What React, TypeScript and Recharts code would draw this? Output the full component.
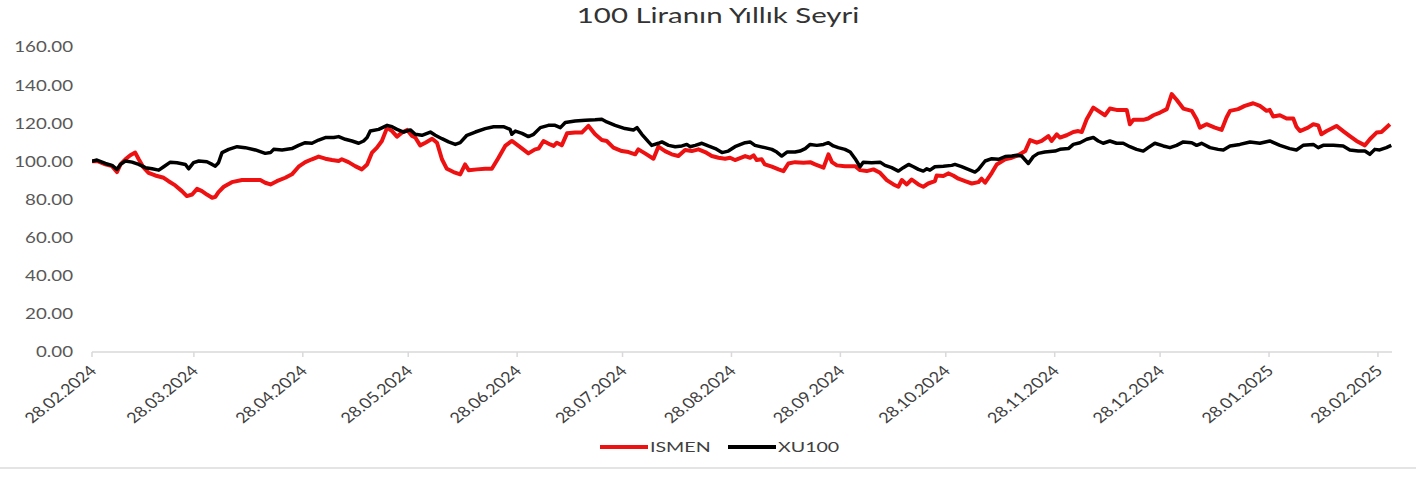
import React from "react";
import { LineChart, Line, XAxis, YAxis, Legend } from "recharts";

const chartTitle = "100 Liranın Yıllık Seyri";
const seriesNames = ["ISMEN", "XU100"];
const seriesColors = ["#ee1111", "#000000"];

// x = days since 28.02.2024
const tickDays = [0, 29, 60, 90, 121, 151, 182, 213, 243, 274, 304, 335, 366];
const tickLabels = [
  "28.02.2024", "28.03.2024", "28.04.2024", "28.05.2024", "28.06.2024", "28.07.2024",
  "28.08.2024", "28.09.2024", "28.10.2024", "28.11.2024", "28.12.2024", "28.01.2025", "28.02.2025",
];
const yTicks = [0, 20, 40, 60, 80, 100, 120, 140, 160];

const ismenDays = [
  0, 1.4, 3.8, 5.7, 7.1, 8.1, 9.5, 10.9, 12.3, 13.3, 14.7, 16.1, 18.0, 20.4, 21.8, 23.7, 25.6, 27.0, 28.5, 29.9,
  31.3, 32.7, 34.2, 35.1, 36.0, 37.5, 39.8, 42.7, 45.5, 47.9, 49.3, 50.8, 52.6, 55.0, 56.9, 58.8, 60.7, 62.6, 64.5, 66.4,
  68.3, 70.2, 71.1, 73.0, 74.9, 76.8, 78.3, 79.7, 81.1, 82.5, 84.0, 85.4, 86.8, 88.2, 89.7, 91.1, 92.0, 93.4, 94.9, 96.8,
  98.2, 99.6, 101.0, 102.9, 104.8, 106.2, 107.2, 109.6, 111.9, 113.8, 115.7, 117.6, 119.5, 121.4, 124.2, 126.1, 127.1, 128.5, 130.4, 131.4,
  132.3, 133.7, 135.2, 137.5, 139.4, 141.3, 143.2, 145.1, 146.5, 148.4, 150.8, 152.7, 154.6, 155.5, 157.4, 159.8, 161.2, 163.1, 165.0, 166.9,
  168.8, 170.7, 172.6, 174.5, 176.4, 178.3, 180.2, 181.6, 183.0, 185.9, 187.3, 188.3, 189.2, 190.6, 191.5, 193.5, 195.4, 196.8, 198.2, 200.1,
  202.5, 204.4, 205.8, 208.2, 209.6, 210.6, 212.0, 214.3, 217.2, 218.6, 220.5, 222.4, 224.3, 226.2, 228.1, 229.5, 230.5, 231.9, 233.3, 235.2,
  236.6, 238.0, 239.9, 240.4, 242.3, 243.7, 245.1, 246.6, 248.5, 250.4, 252.3, 253.2, 254.2, 256.1, 257.5, 259.9, 261.8, 263.6, 265.6, 267.0,
  268.9, 270.3, 272.2, 273.1, 274.6, 275.5, 277.4, 279.3, 280.7, 281.7, 283.1, 285.0, 286.4, 288.3, 289.7, 291.6, 294.5, 295.4, 296.4, 299.2,
  300.6, 302.1, 304.0, 305.9, 307.3, 308.7, 310.6, 313.0, 314.4, 315.3, 317.2, 319.6, 321.5, 322.9, 323.9, 326.2, 328.1, 330.5, 332.4, 334.3,
  335.2, 336.2, 338.1, 340.0, 341.9, 342.8, 343.8, 346.1, 347.6, 349.0, 349.9, 351.4, 352.8, 354.2, 356.1, 358.0, 359.9, 362.3, 363.7, 365.6,
  367.0, 369.4,
];
const ismenValues = [
  100, 100.2, 98.4, 97.5, 94.4, 98.4, 101.1, 103.2, 104.6, 101.1, 96.7, 94.0, 92.6, 91.4, 89.6, 87.4, 84.4, 81.8, 82.6, 85.6,
  84.4, 82.6, 80.9, 81.4, 83.9, 86.7, 89.1, 90.2, 90.2, 90.2, 88.8, 87.9, 89.6, 91.4, 93.2, 97.2, 99.6, 101.1, 102.5, 101.4,
  100.7, 100.2, 101.1, 99.6, 97.5, 95.8, 98.4, 104.6, 107.2, 110.7, 117.7, 115.9, 113.0, 115.1, 116.5, 113.3, 112.5, 108.4, 109.8, 111.9,
  109.8, 101.1, 96.1, 94.4, 93.2, 98.4, 95.4, 95.8, 96.1, 96.1, 101.9, 108.1, 110.7, 108.1, 104.2, 106.3, 106.7, 110.7, 108.9, 108.1,
  109.8, 108.4, 114.7, 115.1, 115.1, 118.6, 114.2, 111.2, 110.7, 107.2, 105.4, 104.9, 103.7, 106.3, 104.2, 101.4, 107.7, 105.4, 103.7, 102.8,
  106.0, 105.4, 106.3, 104.9, 102.8, 101.9, 101.4, 101.9, 100.7, 102.8, 101.9, 103.2, 100.7, 101.1, 98.4, 97.2, 95.8, 94.9, 98.9, 99.6,
  99.3, 99.6, 98.4, 96.7, 103.7, 99.6, 97.9, 97.5, 97.5, 95.4, 94.9, 95.8, 94.0, 90.2, 87.9, 86.7, 90.2, 87.9, 90.5, 87.9,
  86.7, 88.4, 89.6, 92.6, 92.3, 93.7, 92.6, 90.9, 89.6, 88.4, 89.1, 90.9, 88.8, 94.0, 98.4, 101.1, 101.9, 103.2, 105.4, 111.2,
  109.8, 110.7, 113.3, 110.7, 114.2, 112.5, 113.7, 115.4, 115.9, 115.4, 122.1, 128.2, 126.5, 124.2, 127.7, 127.0, 127.0, 119.5, 121.8, 121.8,
  122.5, 124.2, 125.6, 127.4, 135.3, 132.3, 127.7, 126.5, 122.1, 117.7, 119.5, 117.7, 116.5, 123.0, 126.5, 127.4, 129.1, 130.5, 129.1, 126.5,
  127.0, 123.5, 124.2, 122.5, 122.5, 118.2, 115.9, 117.7, 119.5, 118.9, 114.2, 115.9, 117.2, 118.6, 115.9, 113.3, 110.7, 108.4, 111.6, 115.1,
  115.4, 119.5,
];

const xu100Days = [
  0, 1.4, 3.8, 5.7, 7.1, 8.1, 9.5, 11.4, 13.3, 15.2, 17.1, 19.0, 20.4, 22.3, 24.2, 26.6, 27.5, 28.9, 30.4, 32.7,
  34.2, 35.1, 36.0, 37.0, 38.9, 41.3, 43.6, 46.5, 49.3, 50.8, 51.7, 54.1, 56.9, 58.8, 60.7, 62.6, 64.5, 66.4, 68.8, 70.2,
  72.1, 74.0, 75.9, 77.3, 78.3, 79.2, 81.6, 84.0, 85.4, 86.8, 88.7, 90.6, 92.0, 93.9, 96.3, 97.7, 99.6, 101.5, 103.4, 104.8,
  106.7, 109.1, 111.9, 114.3, 117.1, 119.0, 119.5, 120.5, 122.4, 124.2, 125.7, 127.6, 129.9, 131.8, 133.3, 134.7, 137.5, 140.4, 143.2, 145.1,
  146.5, 148.9, 151.7, 154.1, 155.1, 156.5, 158.4, 159.3, 161.2, 162.2, 164.1, 166.0, 167.9, 169.3, 170.2, 171.7, 173.6, 175.4, 177.4, 179.3,
  181.1, 183.0, 185.9, 187.3, 188.7, 191.5, 193.5, 194.9, 196.3, 197.8, 200.1, 201.5, 203.0, 204.4, 206.3, 208.2, 209.6, 211.0, 212.4, 214.3,
  215.8, 217.2, 218.6, 219.5, 221.9, 224.3, 225.7, 227.6, 229.5, 230.9, 232.4, 233.8, 235.2, 236.6, 237.6, 238.5, 239.9, 242.3, 244.7, 245.6,
  247.5, 249.4, 251.3, 252.3, 254.2, 256.1, 258.0, 259.9, 261.8, 263.2, 264.6, 266.5, 267.9, 269.3, 271.2, 274.1, 275.5, 277.9, 279.3, 281.2,
  283.1, 285.0, 286.4, 287.8, 289.7, 291.6, 293.5, 295.4, 297.3, 299.2, 300.6, 302.5, 304.9, 306.8, 308.7, 310.6, 313.0, 314.4, 315.8, 318.2,
  320.5, 322.0, 323.9, 326.7, 329.6, 332.4, 335.2, 338.1, 340.9, 342.8, 344.7, 347.6, 349.0, 350.4, 353.3, 356.1, 358.0, 360.4, 362.3, 363.7,
  365.1, 366.5, 368.4, 369.8,
];
const xu100Values = [
  100, 100.7, 98.9, 97.9, 95.8, 98.4, 100.2, 99.6, 98.4, 96.7, 96.1, 95.4, 97.2, 99.6, 99.3, 98.4, 96.1, 99.3, 100.2, 99.8,
  98.4, 97.5, 99.3, 104.6, 106.3, 107.7, 107.2, 106.0, 104.2, 104.6, 106.3, 106.0, 106.7, 108.4, 109.8, 109.5, 111.2, 112.5, 112.5, 113.0,
  111.6, 110.7, 109.5, 110.7, 112.5, 115.9, 116.8, 118.9, 118.2, 116.8, 115.4, 116.5, 114.2, 113.7, 115.4, 113.7, 111.9, 110.2, 108.9, 109.8,
  113.7, 115.4, 117.2, 118.2, 118.2, 116.8, 114.2, 115.9, 114.7, 113.0, 114.2, 117.7, 118.9, 118.9, 117.7, 120.4, 121.2, 121.6, 121.8, 122.1,
  120.7, 118.9, 117.2, 116.5, 117.7, 114.2, 110.2, 108.4, 109.5, 110.2, 108.4, 107.7, 108.1, 108.9, 107.7, 108.4, 109.5, 108.1, 106.7, 104.6,
  105.4, 107.7, 109.8, 110.2, 108.4, 107.2, 106.3, 104.9, 102.8, 104.9, 104.9, 105.4, 106.7, 108.9, 108.4, 108.9, 109.8, 108.1, 107.2, 106.3,
  104.9, 101.4, 97.2, 99.6, 99.3, 99.6, 97.9, 96.7, 94.9, 96.7, 98.4, 97.2, 95.8, 94.9, 96.1, 95.4, 97.2, 97.5, 97.9, 98.4,
  97.2, 95.8, 94.4, 95.8, 100.2, 101.4, 101.1, 102.5, 102.8, 103.2, 102.8, 98.9, 102.5, 104.2, 104.9, 105.4, 106.3, 106.7, 108.9, 109.8,
  111.6, 112.5, 110.7, 109.5, 110.7, 109.5, 109.5, 107.7, 106.3, 105.4, 107.2, 109.5, 108.1, 107.2, 108.4, 110.2, 109.8, 108.4, 109.5, 107.2,
  106.3, 106.0, 108.1, 108.9, 110.2, 109.5, 110.7, 108.4, 106.7, 106.0, 108.4, 108.9, 107.2, 108.4, 108.4, 108.1, 106.0, 105.4, 105.4, 103.7,
  106.3, 106.0, 107.2, 108.4,
];

const ismenData = ismenDays.map((d, i) => ({ d, v: ismenValues[i] }));
const xu100Data = xu100Days.map((d, i) => ({ d, v: xu100Values[i] }));

const FONT = "Lato, 'Open Sans', sans-serif";
const SX = 1.25;

const YTick = (props: any) => {
  const { x, y, payload } = props;
  return (
    <g transform={`translate(${x},${y}) scale(${SX},1)`}>
      <text x={0} y={0} dy="0.36em" textAnchor="end" fill="#595959" fontSize={15} fontFamily={FONT}>
        {Number(payload.value).toFixed(2)}
      </text>
    </g>
  );
};

const XTick = (props: any) => {
  const { x, y, payload } = props;
  const idx = tickDays.indexOf(payload.value);
  const label = idx >= 0 ? tickLabels[idx] : "";
  return (
    <g transform={`translate(${x + 1},${y + 9}) scale(${SX},1)`}>
      <text x={0} y={0} dy="0.36em" textAnchor="end" transform="rotate(-45)" fill="#404040" fontSize={14.5} fontFamily={FONT}>
        {label}
      </text>
    </g>
  );
};

const LegendContent = (props: any) => {
  const { payload } = props;
  return (
    <div style={{ display: "flex", justifyContent: "center", alignItems: "center", paddingLeft: 20 }}>
      {(payload || []).map((entry: any, i: number) => (
        <div key={i} style={{ display: "flex", alignItems: "center", marginRight: i === 0 ? 18 : 0 }}>
          <div style={{ width: 48, height: 4, background: entry.color, marginRight: 2 }} />
          <div style={{ width: i === 0 ? 60 : 58, height: 18, position: "relative" }}>
            <span
              style={{
                position: "absolute",
                left: 0,
                top: 0,
                fontFamily: FONT,
                fontSize: 14,
                lineHeight: "18px",
                color: "#404040",
                whiteSpace: "nowrap",
                transform: `scaleX(${SX + 0.15})`,
                transformOrigin: "left center",
              }}
            >
              {entry.value}
            </span>
          </div>
        </div>
      ))}
    </div>
  );
};

export default function App() {
  return (
    <div style={{ position: "absolute", left: 0, top: 0, width: 1416, height: 477, background: "#ffffff", overflow: "hidden" }}>
      <div
        style={{
          position: "absolute",
          left: 718,
          top: 2,
          transform: `translateX(-50%) scaleX(1.4)`,
          fontFamily: FONT,
          fontSize: 21,
          color: "#333333",
          whiteSpace: "nowrap",
          lineHeight: "25px",
        }}
      >
        {chartTitle}
      </div>
      <div style={{ position: "absolute", left: 0, top: 467, width: 1416, height: 2, background: "#e4e4e4" }} />
      <div style={{ position: "absolute", left: 0, top: 0 }}>
        <LineChart width={1416} height={477} margin={{ top: 47, right: 24, bottom: 0, left: 0 }}>
          <XAxis
            type="number"
            dataKey="d"
            domain={[0, 370]}
            ticks={tickDays}
            interval={0}
            allowDataOverflow
            height={125}
            tickSize={5}
            tickMargin={2}
            axisLine={{ stroke: "#d9d9d9", strokeWidth: 1.5 }}
            tickLine={{ stroke: "#d9d9d9", strokeWidth: 1.5 }}
            tick={<XTick />}
          />
          <YAxis
            type="number"
            domain={[0, 160]}
            ticks={yTicks}
            interval={0}
            width={92}
            axisLine={false}
            tickLine={false}
            tickSize={0}
            tickMargin={19}
            tick={<YTick />}
          />
          <Legend
            verticalAlign="middle"
            align="center"
            layout="horizontal"
            wrapperStyle={{ top: 438, left: 0, width: 1416 }}
            content={<LegendContent />}
          />
          <Line
            data={ismenData}
            dataKey="v"
            name={seriesNames[0]}
            type="linear"
            stroke={seriesColors[0]}
            strokeWidth={4}
            dot={false}
            strokeLinejoin="round"
            isAnimationActive={false}
          />
          <Line
            data={xu100Data}
            dataKey="v"
            name={seriesNames[1]}
            type="linear"
            stroke={seriesColors[1]}
            strokeWidth={3.5}
            dot={false}
            strokeLinejoin="round"
            isAnimationActive={false}
          />
        </LineChart>
      </div>
    </div>
  );
}
